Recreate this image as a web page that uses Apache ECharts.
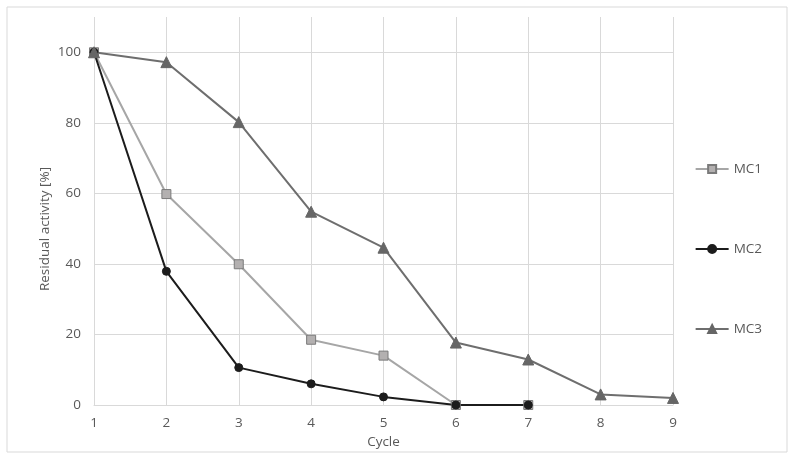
<!DOCTYPE html>
<html>
<head>
<meta charset="utf-8">
<script src="https://cdn.jsdelivr.net/npm/echarts@6/dist/echarts.min.js"></script>
<style>html,body{margin:0;padding:0;background:#fff}#c{width:795px;height:460px}</style>
</head>
<body>
<div id="c"></div>
<script>
const categories = ['1','2','3','4','5','6','7','8','9'];
const mc1 = [100, 59.8, 39.9, 18.5, 14.0, 0, 0];
const mc2 = [100, 37.9, 10.6, 6.0, 2.3, 0, 0];
const mc3 = [100, 97.2, 80.2, 54.8, 44.6, 17.7, 12.9, 3.0, 2.0];
const seriesNames = ['MC1', 'MC2', 'MC3'];

const txt = '#595959';
const grid = '#d9d9d9';
const font = 'Open Sans';

const chart = echarts.init(document.getElementById('c'), null, {renderer: 'canvas'});
chart.setOption({
  animation: false,
  backgroundColor: '#fff',
  grid: {left: 94, right: 122, top: 17, bottom: 55, containLabel: false},
  graphic: [
    {type: 'rect', shape: {x: 7, y: 7, width: 780, height: 445},
     style: {fill: 'none', stroke: grid, lineWidth: 1}, silent: true, z: -1},
    {type: 'text', x: 45, y: 229, rotation: Math.PI / 2,
     style: {text: 'Residual activity [%]', fill: txt, font: '13.5px "Open Sans"',
             textAlign: 'center', textVerticalAlign: 'middle'}}
  ],
  legend: {
    orient: 'vertical', right: 28, top: 157,
    itemWidth: 33, itemHeight: 10, itemGap: 66,
    textStyle: {color: txt, fontFamily: font, fontSize: 13.5},
    data: seriesNames
  },
  xAxis: {
    type: 'category', data: categories, boundaryGap: false,
    name: 'Cycle', nameLocation: 'middle', nameGap: 29,
    nameTextStyle: {color: txt, fontFamily: font, fontSize: 13.5},
    axisLine: {lineStyle: {color: grid, width: 1}},
    axisTick: {show: false},
    axisLabel: {color: txt, fontFamily: font, fontSize: 13.5, margin: 11},
    splitLine: {show: true, lineStyle: {color: grid, width: 1}}
  },
  yAxis: {
    type: 'value', min: 0, max: 110, interval: 20,
    axisLine: {show: false}, axisTick: {show: false},
    axisLabel: {color: txt, fontFamily: font, fontSize: 13.5, margin: 13,
      formatter: v => (v > 100 ? '' : String(v))},
    splitLine: {show: true, lineStyle: {color: [grid, grid, grid, grid, grid, grid, 'rgba(0,0,0,0)'], width: 1}}
  },
  series: [
    {name: 'MC1', type: 'line', data: mc1, symbol: 'rect', symbolSize: 9,
     lineStyle: {color: '#a6a6a6', width: 2},
     itemStyle: {color: '#b3b0b0', borderColor: '#7a7a7a', borderWidth: 1}},
    {name: 'MC2', type: 'line', data: mc2, symbol: 'circle', symbolSize: 8,
     lineStyle: {color: '#1c1c1c', width: 2},
     itemStyle: {color: '#1c1c1c', borderColor: '#1c1c1c', borderWidth: 1}},
    {name: 'MC3', type: 'line', data: mc3, symbol: 'triangle', symbolSize: 11,
     lineStyle: {color: '#6e6e6e', width: 2},
     itemStyle: {color: '#666666', borderColor: '#666666', borderWidth: 1}}
  ]
});
</script>
</body>
</html>
